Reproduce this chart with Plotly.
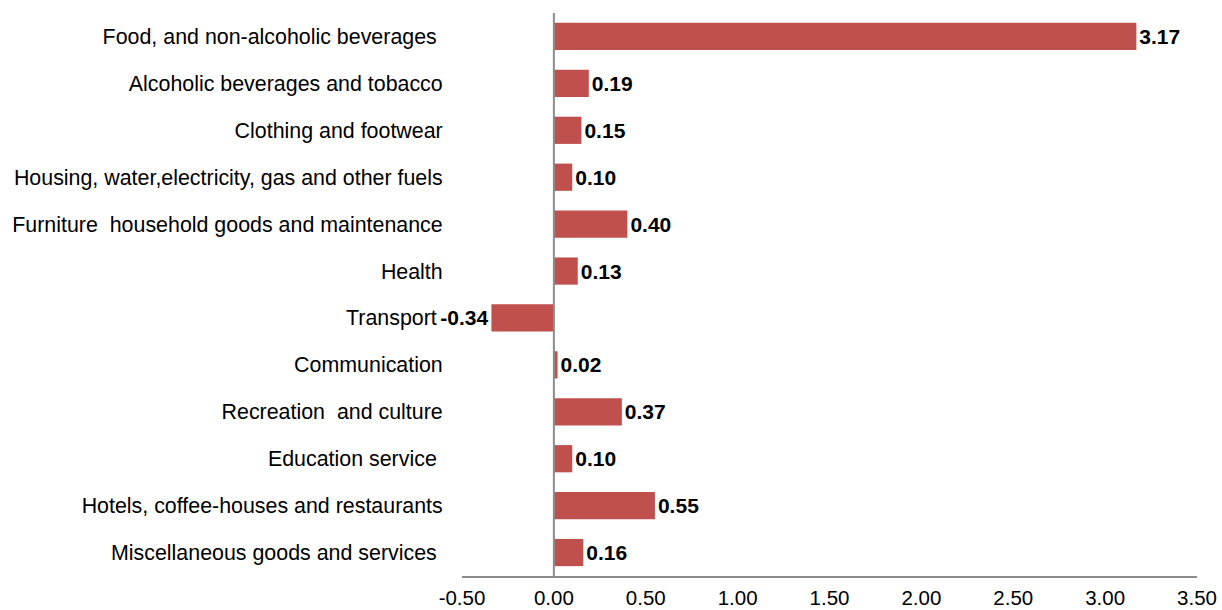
import plotly.graph_objects as go

categories = [
    "Food, and non-alcoholic beverages ",
    "Alcoholic beverages and tobacco",
    "Clothing and footwear",
    "Housing, water,electricity, gas and other fuels",
    "Furniture  household goods and maintenance",
    "Health",
    "Transport ",
    "Communication",
    "Recreation  and culture",
    "Education service ",
    "Hotels, coffee-houses and restaurants",
    "Miscellaneous goods and services ",
]
values = [3.17, 0.19, 0.15, 0.10, 0.40, 0.13, -0.34, 0.02, 0.37, 0.10, 0.55, 0.16]
tick_vals = [-0.5, 0, 0.5, 1.0, 1.5, 2.0, 2.5, 3.0, 3.5]
tick_text = ["-0.50", "0.00", "0.50", "1.00", "1.50", "2.00", "2.50", "3.00", "3.50"]

labels_y = [c.replace("  ", "\u00a0 ").rstrip() + ("\u00a0" if c.endswith(" ") else "") for c in categories]

FONT = "Liberation Sans, Arial"

fig = go.Figure()
fig.add_trace(go.Bar(
    x=values,
    y=labels_y,
    orientation="h",
    marker=dict(color="#C0504D", line=dict(width=0)),
    width=0.58,
    text=[f"{v:.2f}" for v in values],
    textposition="outside",
    textfont=dict(family=FONT, size=21, color="black", weight="bold"),
    cliponaxis=False,
))

fig.add_shape(type="line", xref="x", yref="paper", x0=0, x1=0, y0=0, y1=1,
              line=dict(color="#8c8c8c", width=2))

fig.update_layout(
    width=1222, height=610,
    margin=dict(l=462, r=25, t=13, b=34),
    plot_bgcolor="white", paper_bgcolor="white",
    showlegend=False,
    font=dict(family=FONT, size=21, color="black"),
    bargap=0.42,
    xaxis=dict(
        range=[-0.5, 3.5], tickvals=tick_vals, ticktext=tick_text,
        showgrid=False, zeroline=False,
        showline=True, linecolor="#8c8c8c", linewidth=2,
        ticks="outside", ticklen=2, tickcolor="rgba(0,0,0,0)",
        tickfont=dict(family=FONT, size=20.5),
        automargin=False, fixedrange=True,
    ),
    yaxis=dict(
        autorange="reversed", showgrid=False, zeroline=False, showline=False,
        ticks="outside", ticklen=14, tickcolor="rgba(0,0,0,0)",
        tickfont=dict(family=FONT, size=21.4),
        automargin=False, fixedrange=True,
    ),
    uniformtext=dict(mode=False),
)

fig.write_html(
    "out.html",
    config={"displayModeBar": False},
    post_script="document.body.style.margin='0';document.body.style.overflow='hidden';",
)
